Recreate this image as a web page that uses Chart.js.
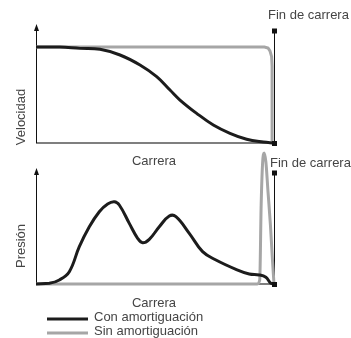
<!DOCTYPE html>
<html>
<head>
<meta charset="utf-8">
<script src="https://cdn.jsdelivr.net/npm/chart.js@4"></script>
<style>
  body { margin: 0; background: #fff; width: 351px; height: 338px; position: relative; overflow: hidden; }
  canvas { position: absolute; left: 0; }
  #vel { top: 0; }
  #pres { top: 145px; }
</style>
</head>
<body>
<canvas id="vel" width="351" height="175"></canvas>
<canvas id="pres" width="351" height="193"></canvas>
<script>
// Velocidad vs carrera
const velConX = [0, 0.10, 0.185, 0.269, 0.353, 0.437, 0.507, 0.563, 0.605, 0.675, 0.745, 0.815, 0.885, 0.955, 1.0];
const velConY = [1.0, 1.0, 0.986, 0.976, 0.917, 0.8125, 0.691, 0.552, 0.448, 0.309, 0.1875, 0.101, 0.039, 0.010, 0];
const velSinX = [0, 0.96, 0.975, 0.983, 0.99, 0.992, 0.992];
const velSinY = [1.0, 1.0, 0.99, 0.96, 0.9, 0.8, 0];

// Presión vs carrera
const presConX = [0, 0.056, 0.098, 0.140, 0.182, 0.224, 0.266, 0.301, 0.329, 0.350, 0.392, 0.427, 0.448, 0.476, 0.518, 0.560, 0.588, 0.644, 0.700, 0.756, 0.840, 0.896, 0.938, 0.966, 0.987, 1.0];
const presConY = [0, 0.005, 0.031, 0.094, 0.285, 0.437, 0.552, 0.611, 0.628, 0.603, 0.463, 0.349, 0.315, 0.341, 0.437, 0.519, 0.514, 0.387, 0.247, 0.183, 0.112, 0.076, 0.069, 0.051, 0.005, 0];
const presSinX = [0, 0.93, 0.94, 0.946, 0.952, 0.959, 0.966, 0.975, 0.985, 0.993, 1.0];
const presSinY = [0, 0, 0.03, 0.6, 0.92, 1.0, 0.93, 0.7, 0.45, 0.2, 0];

const seriesNames = ["Con amortiguación", "Sin amortiguación"];
const xTitle = "Carrera";
const finLabel = "Fin de carrera";

const BLACK = "#1c1c1c";
const GREY = "#a6a6a6";
const TEXT = "#454545";
const FONT = "13px 'Liberation Sans', Arial, sans-serif";

function pts(xs, ys) {
  return xs.map((x, i) => ({ x: x, y: ys[i] }));
}

// axes, arrows, end-of-stroke marker, labels
const decor = {
  id: "decor",
  beforeDatasetsDraw(chart, args, o) {
    const ctx = chart.ctx, a = chart.chartArea;
    const xe = Math.round(chart.scales.x.getPixelForValue(1)) + 0.5;
    ctx.save();
    // x axis
    ctx.strokeStyle = "#555";
    ctx.lineWidth = 1.5;
    ctx.beginPath();
    ctx.moveTo(a.left, a.bottom);
    ctx.lineTo(xe, a.bottom);
    ctx.stroke();
    // y axis with arrow
    const top = a.bottom - o.axisH;
    ctx.strokeStyle = "#111";
    ctx.lineWidth = 1;
    ctx.beginPath();
    ctx.moveTo(a.left + 0.5, a.bottom);
    ctx.lineTo(a.left + 0.5, top + 5);
    ctx.stroke();
    ctx.fillStyle = "#111";
    ctx.beginPath();
    ctx.moveTo(a.left + 0.5, top);
    ctx.lineTo(a.left - 2, top + 7);
    ctx.lineTo(a.left + 3, top + 7);
    ctx.closePath();
    ctx.fill();
    // fin de carrera line
    ctx.beginPath();
    ctx.moveTo(xe, a.top + o.finSq);
    ctx.lineTo(xe, a.bottom);
    ctx.stroke();
    ctx.restore();
  },
  afterDatasetsDraw(chart, args, o) {
    const ctx = chart.ctx, a = chart.chartArea;
    const xe = Math.round(chart.scales.x.getPixelForValue(1));
    ctx.save();
    ctx.fillStyle = "#111";
    ctx.fillRect(xe - 2, a.top + o.finSq - 2.5, 5, 5);
    ctx.fillRect(xe - 2, a.bottom - 2, 5, 5);

    ctx.fillStyle = TEXT;
    ctx.font = FONT;
    ctx.textBaseline = "middle";
    ctx.textAlign = "left";
    ctx.fillText(finLabel, xe - 6 + o.finDx, a.top + o.finLbl);

    ctx.textAlign = "center";
    ctx.fillText(xTitle, (a.left + a.right) / 2 - 1, a.bottom + o.xLbl);

    ctx.save();
    ctx.translate(21, a.bottom - o.yLblUp);
    ctx.rotate(-Math.PI / 2);
    ctx.fillText(o.yTitle, 0, 0);
    ctx.restore();

    if (o.legend) {
      const ds = chart.data.datasets;
      [35, 49].forEach((dy, i) => {
        ctx.strokeStyle = ds[i].borderColor;
        ctx.lineWidth = 3;
        ctx.beginPath();
        ctx.moveTo(47, a.bottom + dy);
        ctx.lineTo(88, a.bottom + dy);
        ctx.stroke();
        ctx.textAlign = "left";
        ctx.fillStyle = TEXT;
        ctx.fillText(ds[i].label, 94, a.bottom + dy - 1.5);
      });
    }
    ctx.restore();
  }
};

function makeChart(id, con, sin, yMax, pad, deco, sinSmooth) {
  return new Chart(document.getElementById(id), {
    type: "line",
    data: {
      datasets: [
        { label: seriesNames[0], data: con, borderColor: BLACK, borderWidth: 3,
          pointRadius: 0, tension: 0.4, clip: false, order: 1 },
        { label: seriesNames[1], data: sin, borderColor: GREY, borderWidth: 3,
          pointRadius: 0, cubicInterpolationMode: sinSmooth ? "monotone" : "default",
          tension: 0, clip: false, order: 2 }
      ]
    },
    options: {
      responsive: false,
      animation: false,
      events: [],
      layout: { padding: pad },
      scales: {
        x: { type: "linear", min: 0, max: 1, display: false },
        y: { min: 0, max: yMax, display: false }
      },
      plugins: {
        legend: { display: false },
        tooltip: { enabled: false },
        decor: deco
      }
    },
    plugins: [decor]
  });
}

makeChart("vel", pts(velConX, velConY), pts(velSinX, velSinY), 1.24,
  { left: 36, top: 24, right: 77, bottom: 32 },
  { axisH: 119, finSq: 7, finLbl: -9, finDx: 0, xLbl: 18, yLblUp: 26, yTitle: "Velocidad", legend: false },
  false);

makeChart("pres", pts(presConX, presConY), pts(presSinX, presSinY), 1.023,
  { left: 36, top: 5, right: 77, bottom: 54 },
  { axisH: 116, finSq: 23, finLbl: 13, finDx: 2, xLbl: 19, yLblUp: 38, yTitle: "Presión", legend: true },
  true);
</script>
</body>
</html>
